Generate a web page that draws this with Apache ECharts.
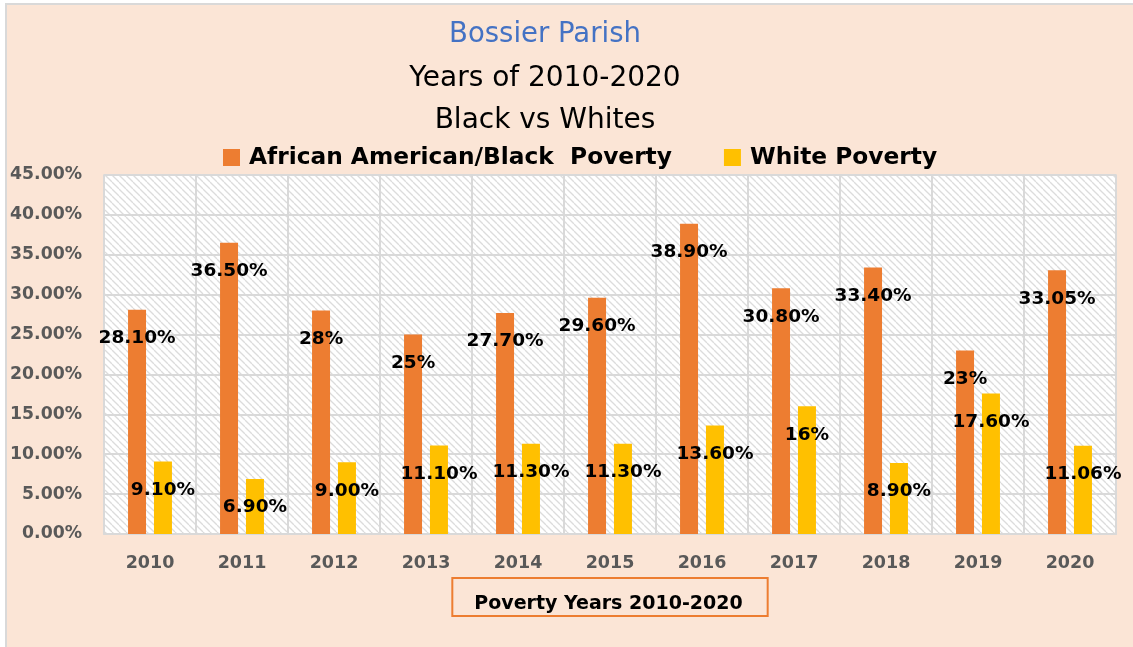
<!DOCTYPE html>
<html>
<head>
<meta charset="utf-8">
<title>Bossier Parish Poverty 2010-2020</title>
<script src="https://cdn.jsdelivr.net/npm/echarts@6/dist/echarts.min.js"></script>
<style>
  html, body { margin: 0; padding: 0; background: #ffffff; }
  #chart { width: 1133px; height: 647px; }
</style>
</head>
<body>
<div id="chart"></div>
<script>
// Poverty rates by year, as printed on the bars
const years = ['2010', '2011', '2012', '2013', '2014', '2015', '2016', '2017', '2018', '2019', '2020'];
const blackLabels = ['28.10%', '36.50%', '28%', '25%', '27.70%', '29.60%', '38.90%', '30.80%', '33.40%', '23%', '33.05%'];
const whiteLabels = ['9.10%', '6.90%', '9.00%', '11.10%', '11.30%', '11.30%', '13.60%', '16%', '8.90%', '17.60%', '11.06%'];
const blackValues = blackLabels.map(s => parseFloat(s));
const whiteValues = whiteLabels.map(s => parseFloat(s));
const yTicks = { min: 0, max: 45, interval: 5 };

const seriesNames = ['African American/Black  Poverty', 'White Poverty'];
const colors = ['#ED7D31', '#FFC000'];

// Diagonal hatch fill for the plot area
function hatchPattern() {
  const size = 7;
  const c = document.createElement('canvas');
  c.width = size; c.height = size;
  const g = c.getContext('2d');
  g.fillStyle = '#ffffff';
  g.fillRect(0, 0, size, size);
  g.strokeStyle = '#DCDCDC';
  g.lineWidth = 1.3;
  for (let k = -1; k <= 1; k++) {
    g.beginPath();
    g.moveTo(k * size, 0);
    g.lineTo(k * size + size, size);
    g.stroke();
  }
  return { image: c, repeat: 'repeat' };
}

const numFont = 'DejaVu Sans';

function makeLabel(texts) {
  return {
    show: true,
    position: 'insideTop',
    distance: 19,
    formatter: p => texts[p.dataIndex],
    fontFamily: numFont,
    fontWeight: 'bold',
    fontSize: 18.5,
    color: '#000000'
  };
}

const chart = echarts.init(document.getElementById('chart'), null, { renderer: 'canvas' });

chart.setOption({
  backgroundColor: '#ffffff',
  animation: false,
  graphic: [{
    type: 'rect',
    z: -100,
    shape: { x: 6, y: 4, width: 1140, height: 660 },
    style: { fill: '#FBE5D6', stroke: '#D9D9D9', lineWidth: 2 }
  }],
  title: [
    { text: 'Bossier Parish', left: 540, top: 16, textAlign: 'center',
      textStyle: { fontFamily: numFont, fontWeight: 'normal', fontSize: 27.5, color: '#4472C4' } },
    { text: 'Years of 2010-2020', left: 540, top: 60, textAlign: 'center',
      textStyle: { fontFamily: numFont, fontWeight: 'normal', fontSize: 28, color: '#000000' } },
    { text: 'Black vs Whites', left: 540, top: 102, textAlign: 'center',
      textStyle: { fontFamily: numFont, fontWeight: 'normal', fontSize: 28, color: '#000000' } }
  ],
  legend: {
    data: seriesNames,
    left: 218,
    top: 141,
    icon: 'rect',
    itemWidth: 17,
    itemHeight: 17,
    itemGap: 52,
    textStyle: { fontFamily: numFont, fontWeight: 'bold', fontSize: 23.3, color: '#000000', padding: [0, 0, 0, 4] }
  },
  grid: {
    left: 104,
    right: 17,
    top: 175,
    bottom: 113,
    show: true,
    backgroundColor: hatchPattern(),
    borderColor: '#D9D9D9',
    borderWidth: 1.5,
    containLabel: false
  },
  xAxis: {
    type: 'category',
    data: years,
    boundaryGap: true,
    axisLine: { show: true, lineStyle: { color: '#D9D9D9', width: 2 } },
    axisTick: { show: false },
    splitLine: { show: true, lineStyle: { color: '#D9D9D9', width: 2 } },
    axisLabel: { margin: 20, fontFamily: numFont, fontWeight: 'bold', fontSize: 17.5, color: '#595959' },
    name: 'Poverty Years 2010-2020',
    nameLocation: 'middle',
    nameGap: 38,
    nameTextStyle: {
      fontFamily: numFont, fontWeight: 'bold', fontSize: 19, color: '#000000',
      borderColor: '#ED7D31', borderWidth: 2, padding: [17, 25, 2, 22]
    }
  },
  yAxis: {
    type: 'value',
    min: yTicks.min,
    max: yTicks.max,
    interval: yTicks.interval,
    axisLine: { show: false },
    axisTick: { show: false },
    splitLine: { show: true, lineStyle: { color: '#D9D9D9', width: 2 } },
    axisLabel: {
      margin: 22,
      formatter: v => v.toFixed(2) + '%',
      fontFamily: numFont, fontWeight: 'bold', fontSize: 17.3, color: '#595959'
    }
  },
  series: [
    {
      name: seriesNames[0],
      type: 'bar',
      data: blackValues,
      barWidth: 18,
      barGap: '44%',
      itemStyle: { color: colors[0] },
      label: makeLabel(blackLabels),
      z: 3
    },
    {
      name: seriesNames[1],
      type: 'bar',
      data: whiteValues,
      barWidth: 18,
      itemStyle: { color: colors[1] },
      label: makeLabel(whiteLabels),
      z: 3
    }
  ]
});
</script>
</body>
</html>
